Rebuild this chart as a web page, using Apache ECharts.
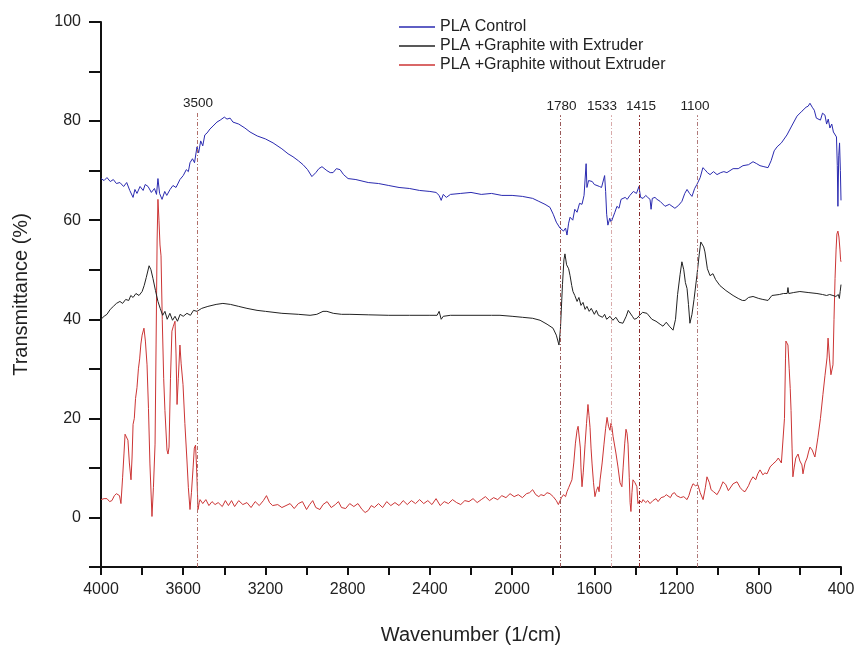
<!DOCTYPE html>
<html><head><meta charset="utf-8">
<script src="https://cdn.jsdelivr.net/npm/echarts@6/dist/echarts.min.js"></script>
<style>html,body{margin:0;padding:0;background:#fff}#c{width:862px;height:650px}</style>
</head><body><div id="c"></div>
<script>
const seriesNames = ['PLA Control', 'PLA +Graphite with Extruder', 'PLA +Graphite without Extruder'];

const waveBlue = [4000,3985,3971,3955,3940,3925,3908,3890,3875,3860,3844,3835,3825,3810,3795,3785,3771,3755,3740,3730,3723,3715,3703,3690,3680,3664,3650,3635,3616,3600,3585,3575,3567,3555,3545,3533,3525,3515,3505,3495,3484,3470,3455,3436,3420,3400,3387,3372,3358,3330,3300,3275,3240,3200,3163,3120,3090,3066,3040,3017,2995,2974,2955,2940,2925,2901,2885,2871,2855,2837,2820,2798,2760,2700,2650,2600,2550,2500,2450,2400,2370,2355,2345,2335,2320,2300,2250,2200,2150,2100,2050,2000,1950,1900,1870,1840,1816,1800,1785,1767,1750,1740,1733,1725,1718,1705,1695,1684,1672,1660,1650,1644,1640,1636,1628,1621,1610,1600,1587,1575,1565,1558,1550,1545,1540,1534,1525,1518,1509,1500,1490,1480,1470,1461,1450,1440,1427,1410,1395,1383,1375,1363,1350,1340,1329,1324,1318,1305,1295,1280,1256,1235,1208,1190,1174,1160,1149,1137,1125,1112,1101,1085,1072,1062,1050,1037,1020,1003,985,970,955,940,925,900,877,850,828,810,794,775,755,740,725,711,690,663,640,614,590,570,560,551,540,530,520,512,500,490,478,470,462,454,445,437,429,422,418,415,411,407,403,400];
const valBlue = [68.4,68.0,68.6,67.8,68.2,67.4,67.6,66.8,67.6,66.0,64.6,66.2,65.4,66.8,66.0,67.2,66.8,65.6,66.4,65.2,68.4,65.4,64.2,65.8,65.0,66.2,67.0,66.6,68.2,69.0,70.2,69.8,71.6,72.4,71.6,74.8,73.6,76.0,75.0,77.2,77.6,78.4,79.0,79.8,80.2,80.8,80.4,80.6,79.8,79.4,78.6,77.8,77.0,76.4,75.6,74.4,73.4,72.8,72.0,71.2,70.2,68.8,69.6,70.4,70.8,70.0,69.6,69.6,70.4,70.2,69.2,68.4,68.2,67.6,67.4,67.0,66.6,66.4,66.0,65.8,65.6,65.0,64.0,65.2,64.6,65.2,65.4,65.6,65.2,65.4,65.0,65.0,64.8,64.4,63.8,63.2,62.6,61.2,59.6,58.4,57.8,58.4,57.0,59.4,60.6,60.0,62.2,61.6,63.4,63.2,65.0,64.8,71.4,66.6,68.0,67.6,67.8,67.2,67.0,66.8,66.6,66.4,69.0,65.8,61.2,59.0,60.4,59.6,59.8,61.6,62.8,62.4,64.2,63.8,64.6,64.2,65.0,65.8,65.4,66.8,64.6,64.4,65.0,64.6,64.2,62.2,64.4,64.6,64.2,63.8,62.8,63.2,62.4,63.0,63.8,65.4,66.2,65.4,64.8,66.4,67.2,68.6,70.6,70.2,69.6,69.2,69.8,69.2,69.6,69.8,69.6,70.0,70.4,70.4,71.0,71.2,71.8,71.4,71.0,70.8,70.6,72.0,74.0,74.8,75.6,77.2,79.0,81.0,82.0,82.8,83.0,83.6,82.8,82.2,80.6,81.0,80.2,81.6,81.2,79.4,80.4,78.6,79.4,77.8,77.4,76.8,71.0,62.8,73.0,75.6,70.0,64.0];

const waveBlack = [4000,3985,3971,3955,3940,3925,3908,3895,3880,3865,3855,3844,3830,3815,3800,3790,3780,3766,3757,3747,3735,3723,3712,3700,3689,3678,3665,3652,3640,3628,3615,3600,3582,3565,3550,3533,3510,3480,3440,3407,3370,3330,3290,3241,3200,3120,3040,2983,2950,2920,2901,2870,2830,2789,2700,2600,2500,2400,2365,2355,2345,2335,2300,2200,2100,2059,2000,1950,1900,1864,1830,1801,1785,1772,1765,1755,1748,1743,1735,1725,1718,1710,1704,1695,1684,1675,1665,1655,1645,1636,1625,1615,1600,1590,1580,1572,1560,1550,1540,1524,1510,1495,1480,1461,1445,1435,1427,1415,1405,1393,1380,1365,1344,1320,1300,1280,1266,1250,1235,1217,1205,1195,1183,1174,1165,1157,1149,1142,1135,1125,1115,1101,1090,1082,1076,1068,1062,1050,1037,1030,1023,1010,989,960,925,900,880,867,850,828,800,780,755,736,700,680,662,658,654,630,600,560,517,490,470,455,439,425,418,413,408,404,400];
const valBlack = [40.0,40.6,41.0,42.0,42.6,43.2,43.6,43.2,44.0,43.8,44.8,44.4,45.2,44.8,45.6,46.8,48.4,50.8,50.0,48.2,45.8,43.6,42.2,40.8,41.6,40.0,41.2,39.8,40.6,39.6,41.0,40.6,41.2,40.8,41.8,41.6,42.2,42.6,43.0,43.2,43.0,42.6,42.2,41.8,41.6,41.2,41.0,40.8,41.0,41.6,41.6,41.2,41.0,41.0,40.9,40.8,40.8,40.8,40.8,41.6,40.0,40.6,40.8,40.8,40.8,40.8,40.6,40.4,40.2,39.8,39.0,38.2,36.8,34.8,38.0,47.0,52.0,53.2,51.0,50.2,48.8,46.8,45.6,44.8,43.6,44.4,42.8,43.4,42.0,42.6,41.6,42.2,41.0,41.8,40.8,41.2,40.4,41.0,40.0,40.6,39.8,40.4,39.4,39.2,40.6,41.8,41.6,40.6,40.0,40.2,40.8,41.4,41.2,40.0,39.6,39.0,38.6,39.4,38.6,37.8,40.0,45.0,49.0,51.6,50.0,47.4,46.2,43.0,39.2,41.0,44.0,48.8,53.0,55.6,55.8,54.6,53.6,50.2,48.8,48.6,49.2,48.0,46.8,45.8,44.8,44.2,43.8,43.8,44.4,44.6,44.2,44.0,43.8,44.8,45.0,45.2,45.2,46.4,45.2,45.4,45.6,45.4,45.2,45.0,44.8,45.0,44.8,44.6,44.4,45.0,44.2,45.6,47.0];

const waveRed = [4000,3985,3971,3958,3947,3935,3925,3917,3910,3903,3895,3888,3883,3876,3869,3862,3854,3849,3844,3838,3832,3825,3818,3812,3806,3800,3795,3791,3784,3776,3769,3762,3752,3745,3737,3732,3727,3723,3718,3713,3708,3702,3695,3689,3679,3674,3669,3662,3655,3648,3640,3635,3630,3624,3616,3610,3601,3592,3582,3575,3567,3560,3552,3546,3540,3535,3530,3528,3522,3518,3505,3490,3475,3460,3445,3430,3410,3395,3380,3365,3350,3330,3310,3290,3270,3250,3230,3210,3195,3180,3165,3140,3120,3100,3080,3060,3040,3020,3000,2985,2970,2955,2935,2920,2900,2880,2860,2845,2830,2810,2790,2770,2750,2730,2715,2700,2685,2670,2650,2630,2610,2590,2570,2550,2530,2510,2490,2470,2450,2430,2410,2390,2370,2350,2330,2310,2290,2270,2250,2230,2210,2190,2170,2150,2130,2110,2090,2070,2050,2030,2010,1990,1970,1950,1930,1915,1900,1885,1870,1860,1845,1830,1816,1800,1785,1775,1767,1760,1750,1740,1733,1725,1718,1709,1700,1692,1684,1679,1674,1668,1665,1660,1654,1645,1638,1631,1626,1621,1616,1611,1604,1597,1590,1582,1577,1572,1562,1553,1545,1538,1531,1524,1519,1514,1509,1504,1495,1485,1475,1466,1460,1452,1446,1441,1436,1430,1426,1422,1417,1412,1402,1393,1388,1380,1370,1363,1350,1340,1329,1315,1300,1290,1275,1260,1250,1241,1230,1220,1210,1200,1193,1180,1165,1149,1140,1130,1120,1108,1096,1085,1071,1060,1052,1047,1040,1032,1020,1003,990,974,960,948,940,925,906,890,877,867,850,840,828,815,805,794,780,770,760,745,731,715,705,697,690,682,675,670,668,662,658,652,647,643,638,634,628,620,615,609,600,590,585,575,565,558,551,540,535,527,520,512,500,488,478,468,463,456,449,439,434,429,424,420,415,410,405,402,400];
const valRed = [3.6,3.8,3.8,3.2,3.4,4.4,4.8,5.2,4.4,2.8,8.0,13.0,16.8,17.2,15.6,11.0,7.6,12.0,18.8,20.0,24.0,26.2,30.0,32.0,35.0,36.8,37.2,38.2,35.6,30.8,22.0,10.8,0.2,6.0,14.8,35.0,56.0,64.2,60.0,55.0,52.8,40.0,28.0,21.6,13.6,12.8,14.2,28.0,37.6,38.6,39.6,33.0,22.8,28.0,34.8,31.0,26.8,19.0,11.6,6.0,1.6,5.0,10.0,14.0,14.6,10.0,4.0,1.6,3.0,3.6,2.8,3.6,2.4,3.2,2.6,3.0,2.2,3.4,2.4,3.4,2.2,3.4,2.6,3.0,2.0,3.2,2.4,3.4,4.4,3.0,2.4,2.6,2.0,2.4,2.8,1.8,2.8,3.2,1.6,2.6,3.4,2.0,1.6,2.6,3.2,2.0,2.6,3.2,2.0,1.8,2.8,2.2,2.8,1.6,1.0,1.4,2.4,2.0,2.8,2.0,3.2,2.4,3.0,2.4,3.4,2.6,3.4,2.8,3.6,2.8,3.4,2.6,3.8,2.4,3.2,2.8,3.6,3.0,2.6,3.4,3.2,3.8,3.0,3.6,4.2,3.4,4.0,3.6,4.4,4.0,4.8,4.2,4.6,4.0,4.8,5.0,5.6,4.6,4.2,4.6,4.4,5.0,4.8,4.2,3.4,2.6,2.8,4.0,4.6,4.2,5.2,6.0,5.6,7.6,11.0,15.0,17.6,18.4,18.2,14.0,10.0,6.2,9.0,14.8,19.0,22.8,20.6,18.2,14.0,10.8,7.0,4.2,5.4,6.2,5.2,7.6,11.0,14.8,18.0,20.2,18.4,17.6,19.0,18.2,16.4,16.2,13.0,10.2,7.0,6.2,10.0,15.0,17.8,17.0,14.8,8.0,3.0,1.2,5.0,7.6,7.0,6.2,2.8,3.4,3.0,3.6,3.0,3.4,2.8,3.4,3.8,3.2,4.0,4.2,4.6,4.8,4.0,4.8,5.0,4.4,4.6,4.0,4.2,3.6,4.4,5.8,6.8,6.4,6.6,5.0,3.6,6.0,8.2,8.6,7.0,5.6,5.2,4.6,5.6,7.2,6.6,5.4,5.8,6.8,7.2,6.0,5.4,5.2,6.4,7.4,8.2,7.6,8.8,9.6,8.6,9.0,8.8,10.2,10.8,11.4,12.0,12.2,11.0,10.8,20.0,32.0,35.6,35.2,34.8,30.0,26.0,21.6,14.0,8.2,10.0,12.0,11.6,12.8,11.4,10.6,8.8,11.0,12.0,13.2,14.2,13.6,14.0,12.2,14.0,16.2,20.0,24.8,28.6,32.2,36.2,32.0,28.8,30.8,40.0,48.2,54.0,57.2,57.8,56.6,54.0,52.0,51.6];

const peakPositions = [3533, 1765, 1519, 1383, 1101];
const peakLabels = ['3500', '1780', '1533', '1415', '1100'];
const peakTops = [81.8, 81.2, 81.2, 81.2, 81.2];
const peakColors = ['#b0706a', '#9a5a5a', '#d8aaaa', '#8a2a2a', '#b07a7a'];
const labelPad = [[0, 0, 0, 2], [0, 0, 0, 2], [0, 18, 0, 0], [0, 0, 0, 4], [0, 4, 0, 0]];

const xTicks = [4000, 3600, 3200, 2800, 2400, 2000, 1600, 1200, 800, 400];
const yTicks = [0, 20, 40, 60, 80, 100];

function zip(w, v) { return w.map((x, i) => [x, v[i]]); }

const FONT = 'Liberation Sans, Arial, sans-serif';
const chart = echarts.init(document.getElementById('c'), null, {renderer: 'canvas'});

const markData = peakPositions.map((p, i) => [
  {coord: [p, -10], lineStyle: {color: peakColors[i], type: [4, 2, 1, 2], width: 1}},
  {coord: [p, peakTops[i]], label: {show: true, formatter: peakLabels[i], position: 'end', distance: 2, padding: labelPad[i], color: '#222', fontSize: 13.5, fontFamily: FONT}}
]);

chart.setOption({
  animation: false,
  backgroundColor: '#fff',
  grid: {left: 101, right: 21, top: 22, bottom: 80},
  legend: {
    orient: 'vertical', left: 394, top: 14, itemWidth: 36, itemHeight: 1.5, itemGap: 3, icon: 'rect',
    textStyle: {fontSize: 16, color: '#222', fontFamily: FONT},
    data: seriesNames
  },
  xAxis: {
    type: 'value', inverse: true, min: 400, max: 4000, interval: 200,
    name: 'Wavenumber (1/cm)', nameLocation: 'middle', nameGap: 58,
    nameTextStyle: {fontSize: 20, color: '#222', fontFamily: FONT},
    axisLine: {onZero: false, lineStyle: {color: '#111', width: 2}},
    axisTick: {show: true, length: 8, inside: false, lineStyle: {color: '#111', width: 2}},
    axisLabel: {fontSize: 16, color: '#222', fontFamily: FONT, margin: 15,
      formatter: v => xTicks.includes(v) ? String(v) : ''},
    splitLine: {show: false}
  },
  yAxis: {
    type: 'value', min: -10, max: 100, interval: 10,
    name: 'Transmittance (%)', nameLocation: 'middle', nameGap: 70, nameRotate: 90,
    nameTextStyle: {fontSize: 20, color: '#222', fontFamily: FONT},
    axisLine: {show: true, onZero: false, lineStyle: {color: '#111', width: 2}},
    axisTick: {show: true, length: 12, lineStyle: {color: '#111', width: 2}},
    axisLabel: {fontSize: 16, color: '#222', fontFamily: FONT, margin: 20,
      formatter: v => yTicks.includes(v) ? String(v) : ''},
    splitLine: {show: false}
  },
  series: [
    {name: seriesNames[0], type: 'line', symbol: 'none', data: zip(waveBlue, valBlue),
      lineStyle: {color: '#2a2ab0', width: 1}, itemStyle: {color: '#2a2ab0'}, z: 3},
    {name: seriesNames[1], type: 'line', symbol: 'none', data: zip(waveBlack, valBlack),
      lineStyle: {color: '#222', width: 1}, itemStyle: {color: '#222'}, z: 3},
    {name: seriesNames[2], type: 'line', symbol: 'none', data: zip(waveRed, valRed),
      lineStyle: {color: '#cc3535', width: 1}, itemStyle: {color: '#cc3535'}, z: 2,
      markLine: {silent: true, symbol: 'none', animation: false, data: markData}}
  ]
});
</script></body></html>
